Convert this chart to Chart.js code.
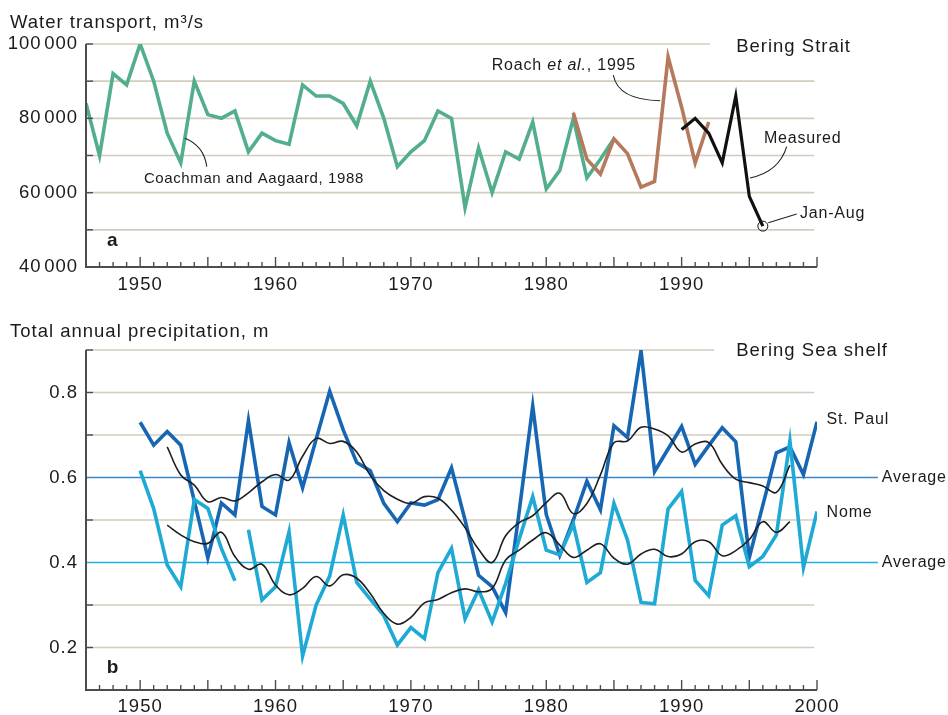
<!DOCTYPE html>
<html>
<head>
<meta charset="utf-8">
<script src="https://cdn.jsdelivr.net/npm/chart.js@4/dist/chart.umd.min.js"></script>
<style>
  html, body { margin: 0; padding: 0; background: #fff; }
  #wrap { position: relative; width: 948px; height: 715px; overflow: hidden; }
  canvas { position: absolute; left: 0; }
  #transport { top: 0; }
  #precip { top: 300px; }
</style>
</head>
<body>
<div id="wrap">
  <canvas id="transport" width="948" height="300"></canvas>
  <canvas id="precip" width="948" height="415"></canvas>
</div>
<script>
const range = (a, b) => Array.from({ length: b - a + 1 }, (_, i) => a + i);

// ---- Panel a: Bering Strait water transport, m3/s ----
const coachmanYears = range(1946, 1985);
const coachman = [
  84000, 70000, 92000, 89000, 100000, 90000, 76000, 68000, 90000, 81000,
  80000, 82000, 71000, 76000, 74000, 73000, 89000, 86000, 86000, 84000,
  78000, 90000, 80000, 67000, 71000, 74000, 82000, 80000, 56000, 72000,
  60000, 71000, 69000, 79000, 61000, 66000, 80000, 64000, 69000, 74500
];
const roachYears = range(1982, 1992);
const roach = [81500, 69000, 65000, 74500, 70500, 61500, 63000, 96500, 83000, 68000, 79000];
const measuredYears = range(1990, 1996);
const measured = [77000, 80000, 76000, 68000, 86000, 59000, 51000];
const transportTicks = [40000, 60000, 80000, 100000];
const transportGrid = [50000, 60000, 70000, 80000, 90000, 100000];
const transportYearLabels = [1950, 1960, 1970, 1980, 1990];

// ---- Panel b: Bering Sea shelf total annual precipitation, m ----
const precipYears = range(1950, 2000);
const stPaul = [
  0.730, 0.676, 0.708, 0.676, 0.545, 0.411, 0.540, 0.512, 0.734, 0.532,
  0.512, 0.682, 0.576, 0.690, 0.803, 0.712, 0.635, 0.616, 0.539, 0.496,
  0.540, 0.535, 0.548, 0.623, 0.500, 0.370, 0.343, 0.282, 0.520, 0.768,
  0.513, 0.417, 0.500, 0.591, 0.524, 0.722, 0.694, 0.898, 0.614, 0.667,
  0.720, 0.631, 0.675, 0.717, 0.684, 0.412, 0.535, 0.658, 0.672, 0.607,
  0.731
];
const nome = [
  0.616, 0.527, 0.394, 0.343, 0.548, 0.527, 0.433, 0.357, 0.477, 0.312,
  0.343, 0.472, 0.180, 0.300, 0.368, 0.512, 0.353, 0.314, 0.275, 0.206,
  0.247, 0.221, 0.376, 0.433, 0.268, 0.336, 0.260, 0.351, 0.455, 0.555,
  0.429, 0.418, 0.490, 0.353, 0.376, 0.539, 0.453, 0.306, 0.303, 0.526,
  0.567, 0.358, 0.322, 0.488, 0.510, 0.390, 0.414, 0.465, 0.686, 0.388,
  0.520
];
const nomeGapAfter = 1957; // no record between 1957 and 1958
const smoothYears = range(1952, 1998);
const stPaulSmooth = [
  0.672, 0.606, 0.582, 0.543, 0.553, 0.545, 0.564, 0.590, 0.607, 0.594,
  0.650, 0.692, 0.680, 0.685, 0.660, 0.605, 0.569, 0.549, 0.539, 0.555,
  0.551, 0.523, 0.482, 0.431, 0.400, 0.463, 0.494, 0.510, 0.541, 0.563,
  0.515, 0.539, 0.606, 0.682, 0.686, 0.718, 0.714, 0.698, 0.660, 0.679,
  0.682, 0.631, 0.596, 0.588, 0.580, 0.565, 0.629
];
const nomeSmooth = [
  0.488, 0.465, 0.449, 0.445, 0.471, 0.414, 0.384, 0.396, 0.347, 0.324,
  0.339, 0.367, 0.345, 0.371, 0.363, 0.327, 0.280, 0.255, 0.271, 0.305,
  0.313, 0.329, 0.338, 0.331, 0.339, 0.406, 0.429, 0.453, 0.470, 0.441,
  0.412, 0.429, 0.444, 0.410, 0.396, 0.420, 0.431, 0.414, 0.420, 0.449,
  0.449, 0.416, 0.428, 0.454, 0.496, 0.471, 0.496
];
const stPaulAverage = 0.6;
const nomeAverage = 0.4;
const precipTicks = [0.2, 0.4, 0.6, 0.8];
const precipGrid = [0.2, 0.3, 0.5, 0.7, 0.8, 0.9];
const precipYearLabels = [1950, 1960, 1970, 1980, 1990, 2000];

// ---- styling ----
const FONT = '"Liberation Sans", Arial, Helvetica, sans-serif';
const INK = '#1b1b1b';
const AXIS = '#4d4d4d';
const GRID = '#d3ccbf';
const GREEN = '#52ae8b';
const BROWN = '#b57a5d';
const BLACK = '#111111';
const ST_PAUL = '#1766b3';
const NOME = '#1fa9d5';
const ST_PAUL_AVG = '#3a86c6';
const NOME_AVG = '#22afe0';
const SMOOTH = '#1e1e1e';

const pts = (xs, ys) => xs.map((x, i) => ({ x, y: ys[i] }));

function series(data, color, width, extra) {
  return Object.assign({
    data, borderColor: color, backgroundColor: color, borderWidth: width,
    pointRadius: 0, tension: 0, fill: false, borderJoinStyle: 'miter', borderCapStyle: 'butt'
  }, extra || {});
}

function drawNote(ctx, n, px, py) {
  ctx.save();
  ctx.fillStyle = INK;
  ctx.textBaseline = 'alphabetic';
  ctx.textAlign = 'left';
  ctx.letterSpacing = (n.spacing === undefined ? 0.8 : n.spacing) + 'px';
  const parts = n.parts || [[n.text, '']];
  let x = px;
  parts.forEach(([txt, style]) => {
    ctx.font = `${style} ${n.weight || 'normal'} ${n.size}px ${FONT}`;
    ctx.fillText(txt, x, py);
    x += ctx.measureText(txt).width;
  });
  ctx.restore();
}

// Axes, tick marks, gridlines, reference lines and annotations for one panel
function framePlugin(cfg) {
  return {
    id: 'frame',
    beforeDraw(chart) {
      chart.ctx.letterSpacing = '1px';
    },
    beforeDatasetsDraw(chart) {
      const { ctx, chartArea: a, scales: { x, y } } = chart;
      ctx.save();
      ctx.lineWidth = 1.6;
      ctx.strokeStyle = GRID;
      cfg.grid.forEach(v => {
        const py = y.getPixelForValue(v);
        const end = x.getPixelForValue(v === y.max ? cfg.topGridEnd : cfg.gridEnd);
        ctx.beginPath(); ctx.moveTo(a.left, py); ctx.lineTo(end, py); ctx.stroke();
      });
      (cfg.refs || []).forEach(r => {
        const py = y.getPixelForValue(r.v);
        ctx.strokeStyle = r.color;
        ctx.lineWidth = 1.6;
        ctx.beginPath(); ctx.moveTo(a.left, py); ctx.lineTo(x.getPixelForValue(r.end), py); ctx.stroke();
      });
      ctx.restore();
    },
    afterDatasetsDraw(chart) {
      const { ctx, chartArea: a, scales: { x, y } } = chart;
      ctx.save();
      ctx.strokeStyle = AXIS;
      // y tick marks, pointing into the plot
      ctx.lineWidth = 1.4;
      cfg.grid.forEach(v => {
        const py = y.getPixelForValue(v);
        ctx.beginPath(); ctx.moveTo(a.left, py); ctx.lineTo(a.left + 7, py); ctx.stroke();
      });
      // yearly x tick marks, longer every five years
      for (let yr = Math.ceil(x.min) + 1; yr <= x.max; yr++) {
        const px = x.getPixelForValue(yr);
        const len = yr % 5 === 0 ? 10 : 5;
        ctx.beginPath(); ctx.moveTo(px, a.bottom); ctx.lineTo(px, a.bottom - len); ctx.stroke();
      }
      // axis lines
      ctx.lineWidth = 2;
      ctx.beginPath();
      ctx.moveTo(a.left, a.top); ctx.lineTo(a.left, a.bottom); ctx.lineTo(a.right, a.bottom);
      ctx.stroke();
      // leader lines
      ctx.strokeStyle = '#222';
      ctx.lineWidth = 1.1;
      (cfg.leaders || []).forEach(l => {
        const f = [x.getPixelForValue(l.from[0]), y.getPixelForValue(l.from[1])];
        const t = [x.getPixelForValue(l.to[0]), y.getPixelForValue(l.to[1])];
        ctx.beginPath();
        ctx.moveTo(f[0], f[1]);
        if (l.ctrl) {
          ctx.quadraticCurveTo(x.getPixelForValue(l.ctrl[0]), y.getPixelForValue(l.ctrl[1]), t[0], t[1]);
        } else {
          ctx.lineTo(t[0], t[1]);
        }
        ctx.stroke();
      });
      ctx.restore();
      (cfg.notes || []).forEach(n => drawNote(ctx, n, x.getPixelForValue(n.x), y.getPixelForValue(n.y)));
      if (cfg.title) drawNote(ctx, { text: cfg.title, size: 18.5, spacing: 1 }, 10, cfg.titleBaseline);
    }
  };
}

function baseOptions(o) {
  return {
    responsive: false,
    animation: false,
    events: [],
    layout: { padding: { top: o.top, right: 131, left: 0, bottom: 0 } },
    plugins: { legend: { display: false }, tooltip: { enabled: false } },
    scales: {
      x: {
        type: 'linear', min: 1946, max: 2000,
        grid: { display: false, drawTicks: false },
        border: { display: false },
        ticks: {
          stepSize: 1, autoSkip: false, maxRotation: 0, padding: o.xPad,
          color: INK, font: { family: FONT, size: 18.5 },
          callback: v => (o.yearLabels.includes(v) ? String(v) : '')
        },
        afterFit: s => { s.height = o.xHeight; }
      },
      y: {
        type: 'linear', min: o.yMin, max: o.yMax,
        grid: { display: false, drawTicks: false },
        border: { display: false },
        ticks: {
          stepSize: o.yStep, autoSkip: false, padding: 8,
          color: INK, font: { family: FONT, size: 18.5 },
          callback: o.yLabel
        },
        afterFit: s => { s.width = 86; }
      }
    }
  };
}

const spacedThousands = v => String(v).replace(/\B(?=(\d{3})+(?!\d))/g, '\u200A');

// Panel a
new Chart(document.getElementById('transport'), {
  type: 'line',
  data: {
    datasets: [
      series(pts(measuredYears, measured), BLACK, 3.2, {
        pointRadius: measured.map((_, i) => (i === measured.length - 1 ? 5 : 0)),
        pointBackgroundColor: 'rgba(0,0,0,0)', pointBorderColor: '#111', pointBorderWidth: 1
      }),
      series(pts(roachYears, roach), BROWN, 3.6),
      series(pts(coachmanYears, coachman), GREEN, 3.6)
    ]
  },
  options: baseOptions({
    top: 44, xPad: 7, xHeight: 33, yMin: 40000, yMax: 100000, yStep: 10000,
    yearLabels: transportYearLabels,
    yLabel: v => (transportTicks.includes(v) ? spacedThousands(v) : '')
  }),
  plugins: [framePlugin({
    grid: transportGrid, gridEnd: 1999.8, topGridEnd: 1992.1,
    title: 'Water transport, m\u00B3/s', titleBaseline: 28.3,
    notes: [
      { text: 'Coachman and Aagaard, 1988', x: 1950.28, y: 62520, size: 15, spacing: 0.6 },
      { parts: [['Roach ', ''], ['et al.', 'italic'], [', 1995', '']], x: 1975.97, y: 93000, size: 16 },
      { text: 'Measured', x: 1996.08, y: 73280, size: 16 },
      { text: 'Jan-Aug', x: 1998.74, y: 53100, size: 16 },
      { text: 'Bering Strait', x: 1994.03, y: 97930, size: 18.5, spacing: 1 },
      { text: 'a', x: 1947.55, y: 45520, size: 19, weight: 'bold', spacing: 0 }
    ],
    leaders: [
      { from: [1953.31, 74630], ctrl: [1954.72, 72560], to: [1954.92, 66990] },
      { from: [1984.95, 91660], ctrl: [1985.30, 84930], to: [1988.41, 84740] },
      { from: [1997.76, 72370], ctrl: [1997.19, 65560], to: [1995.05, 63940] },
      { from: [1996.40, 51920], to: [1998.50, 54260] }
    ]
  })]
});

// Panel b
new Chart(document.getElementById('precip'), {
  type: 'line',
  data: {
    datasets: [
      series(pts(smoothYears, stPaulSmooth), SMOOTH, 1.6, { tension: 0.4 }),
      series(pts(smoothYears, nomeSmooth), SMOOTH, 1.6, { tension: 0.4 }),
      series(pts(precipYears, nome), NOME, 3.6, {
        segment: { borderColor: c => (c.p0.parsed.x === nomeGapAfter ? 'rgba(0,0,0,0)' : undefined) }
      }),
      series(pts(precipYears, stPaul), ST_PAUL, 3.6)
    ]
  },
  options: baseOptions({
    top: 50, xPad: 6, xHeight: 25, yMin: 0.1, yMax: 0.9, yStep: 0.1,
    yearLabels: precipYearLabels,
    yLabel: v => {
      const r = Math.round(v * 10) / 10;
      return precipTicks.includes(r) ? r.toFixed(1) : '';
    }
  }),
  plugins: [framePlugin({
    grid: precipGrid, gridEnd: 1999.8, topGridEnd: 1992.4,
    refs: [
      { v: stPaulAverage, color: ST_PAUL_AVG, end: 2004.5 },
      { v: nomeAverage, color: NOME_AVG, end: 2004.5 }
    ],
    title: 'Total annual precipitation, m', titleBaseline: 37.3,
    notes: [
      { text: 'Bering Sea shelf', x: 1994.03, y: 0.8859, size: 18.5, spacing: 1 },
      { text: 'St. Paul', x: 2000.71, y: 0.7252, size: 16 },
      { text: 'Nome', x: 2000.71, y: 0.5064, size: 16 },
      { text: 'Average', x: 2004.79, y: 0.5901, size: 16 },
      { text: 'Average', x: 2004.79, y: 0.3900, size: 16 },
      { text: 'b', x: 1947.53, y: 0.1393, size: 19, weight: 'bold', spacing: 0 }
    ]
  })]
});
</script>
</body>
</html>
